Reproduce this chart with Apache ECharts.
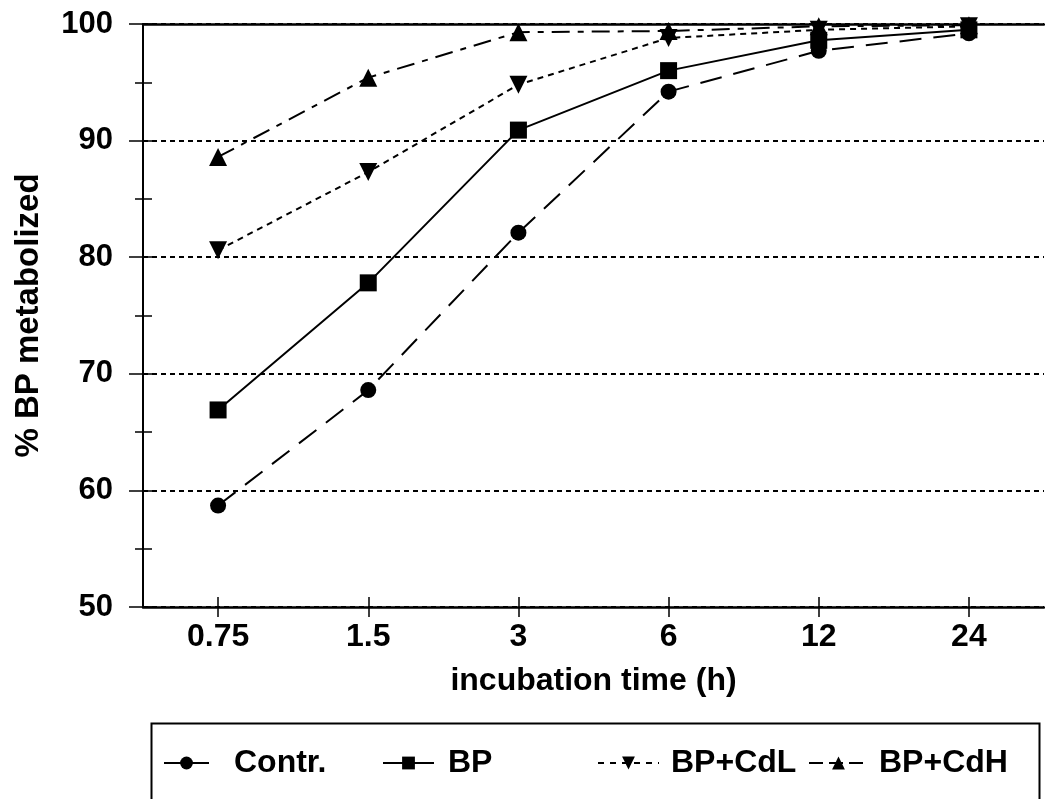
<!DOCTYPE html>
<html>
<head>
<meta charset="utf-8">
<script src="https://cdn.jsdelivr.net/npm/echarts@6/dist/echarts.min.js"></script>
<style>
  html, body { margin: 0; padding: 0; background: #fff; }
  #chart { width: 1045px; height: 799px; }
</style>
</head>
<body>
<div id="chart"></div>
<script>
// incubation times (h)
const times = ['0.75', '1.5', '3', '6', '12', '24'];
// % BP metabolized per treatment
const contr = [58.7, 68.6, 82.1, 94.2, 97.7, 99.2];
const bp    = [66.9, 77.8, 90.9, 96.0, 98.6, 99.5];
const bpCdL = [80.6, 87.3, 94.8, 98.8, 99.5, 99.8];
const bpCdH = [88.6, 95.4, 99.3, 99.4, 99.8, 99.9];
const seriesNames = ['Contr.', 'BP', 'BP+CdL', 'BP+CdH'];

const FONT = 'Liberation Sans';
const chart = echarts.init(document.getElementById('chart'), null, { renderer: 'canvas' });

function lineSeries(name, data, symbol, size, dash, rotate) {
  return {
    name: name, type: 'line', data: data,
    xAxisIndex: 0, yAxisIndex: 0,
    symbol: symbol, symbolSize: size, symbolRotate: rotate || 0,
    itemStyle: { color: '#000' },
    lineStyle: { color: '#000', width: 2, type: dash },
    emphasis: { disabled: true },
    animation: false,
    z: 5
  };
}

// one legend block per entry so each can sit at its own spot in the key box
function legendAt(name, left, width, textGap, keyDash) {
  return {
    data: [name], left: left, top: 747,
    itemWidth: width, itemHeight: 16, itemGap: 0, padding: 0,
    lineStyle: { type: keyDash, width: 2, color: '#000' },
    textStyle: {
      fontFamily: FONT, fontWeight: 'bold', fontSize: 32, color: '#000',
      padding: [0, 0, 0, textGap]
    },
    selectedMode: false
  };
}

chart.setOption({
  animation: false,
  grid: { left: 143, right: 1, top: 24, bottom: 192, containLabel: false },
  xAxis: [
    {
      type: 'category', data: times, position: 'bottom',
      boundaryGap: true,
      axisLine: { show: true, lineStyle: { color: '#000', width: 2.5 } },
      axisTick: { show: true, alignWithLabel: true, length: 10, lineStyle: { color: '#000', width: 1.5 } },
      axisLabel: { color: '#000', fontFamily: FONT, fontWeight: 'bold', fontSize: 32, margin: 14 },
      name: 'incubation time (h)', nameLocation: 'middle', nameGap: 58,
      nameTextStyle: { color: '#000', fontFamily: FONT, fontWeight: 'bold', fontSize: 32 },
      splitLine: { show: false }
    },
    {
      type: 'category', data: times, position: 'bottom',
      boundaryGap: true,
      axisLine: { show: false },
      axisTick: { show: true, inside: true, alignWithLabel: true, length: 10, lineStyle: { color: '#000', width: 1.5 } },
      axisLabel: { show: false }, splitLine: { show: false }
    },
    {
      type: 'category', data: times, position: 'top',
      axisLine: { show: true, lineStyle: { color: '#000', width: 2.5 } },
      axisTick: { show: false }, axisLabel: { show: false }, splitLine: { show: false }
    }
  ],
  yAxis: [
    {
      type: 'value', min: 50, max: 100, interval: 10, position: 'left',
      axisLine: { show: true, lineStyle: { color: '#000', width: 2 } },
      axisTick: { show: true, length: 14, lineStyle: { color: '#000', width: 1.5 } },
      minorTick: { show: true, splitNumber: 2, length: 8, lineStyle: { color: '#000', width: 1.5 } },
      axisLabel: { color: '#000', fontFamily: FONT, fontWeight: 'bold', fontSize: 31, margin: 30 },
      splitLine: { show: true, lineStyle: { color: '#000', width: 2, type: [5, 4] } },
      name: '% BP metabolized', nameLocation: 'middle', nameGap: 98, nameRotate: 90,
      nameTextStyle: { color: '#000', fontFamily: FONT, fontWeight: 'bold', fontSize: 33 }
    },
    {
      type: 'value', min: 50, max: 100, interval: 5, position: 'left',
      axisLine: { show: false },
      axisTick: { show: true, inside: true, length: 9, lineStyle: { color: '#000', width: 1.5 } },
      axisLabel: { show: false }, splitLine: { show: false }
    }
  ],
  legend: [
    legendAt(seriesNames[0], 163, 45, 20, 'solid'),
    legendAt(seriesNames[1], 382, 51, 9, 'solid'),
    legendAt(seriesNames[2], 597, 61, 7, [6, 6]),
    legendAt(seriesNames[3], 808, 59, 6, [14, 6])
  ],
  graphic: [
    {
      type: 'rect', left: 149, top: 721, silent: true,
      shape: { width: 888, height: 100 },
      style: { fill: 'none', stroke: '#000', lineWidth: 2 }
    }
  ],
  series: [
    lineSeries(seriesNames[0], contr, 'circle', 16, [22, 12]),
    lineSeries(seriesNames[1], bp, 'rect', 17, 'solid'),
    lineSeries(seriesNames[2], bpCdL, 'triangle', 18, [6, 5], 180),
    lineSeries(seriesNames[3], bpCdH, 'triangle', 18, [18, 8, 6, 8])
  ]
});
</script>
</body>
</html>
